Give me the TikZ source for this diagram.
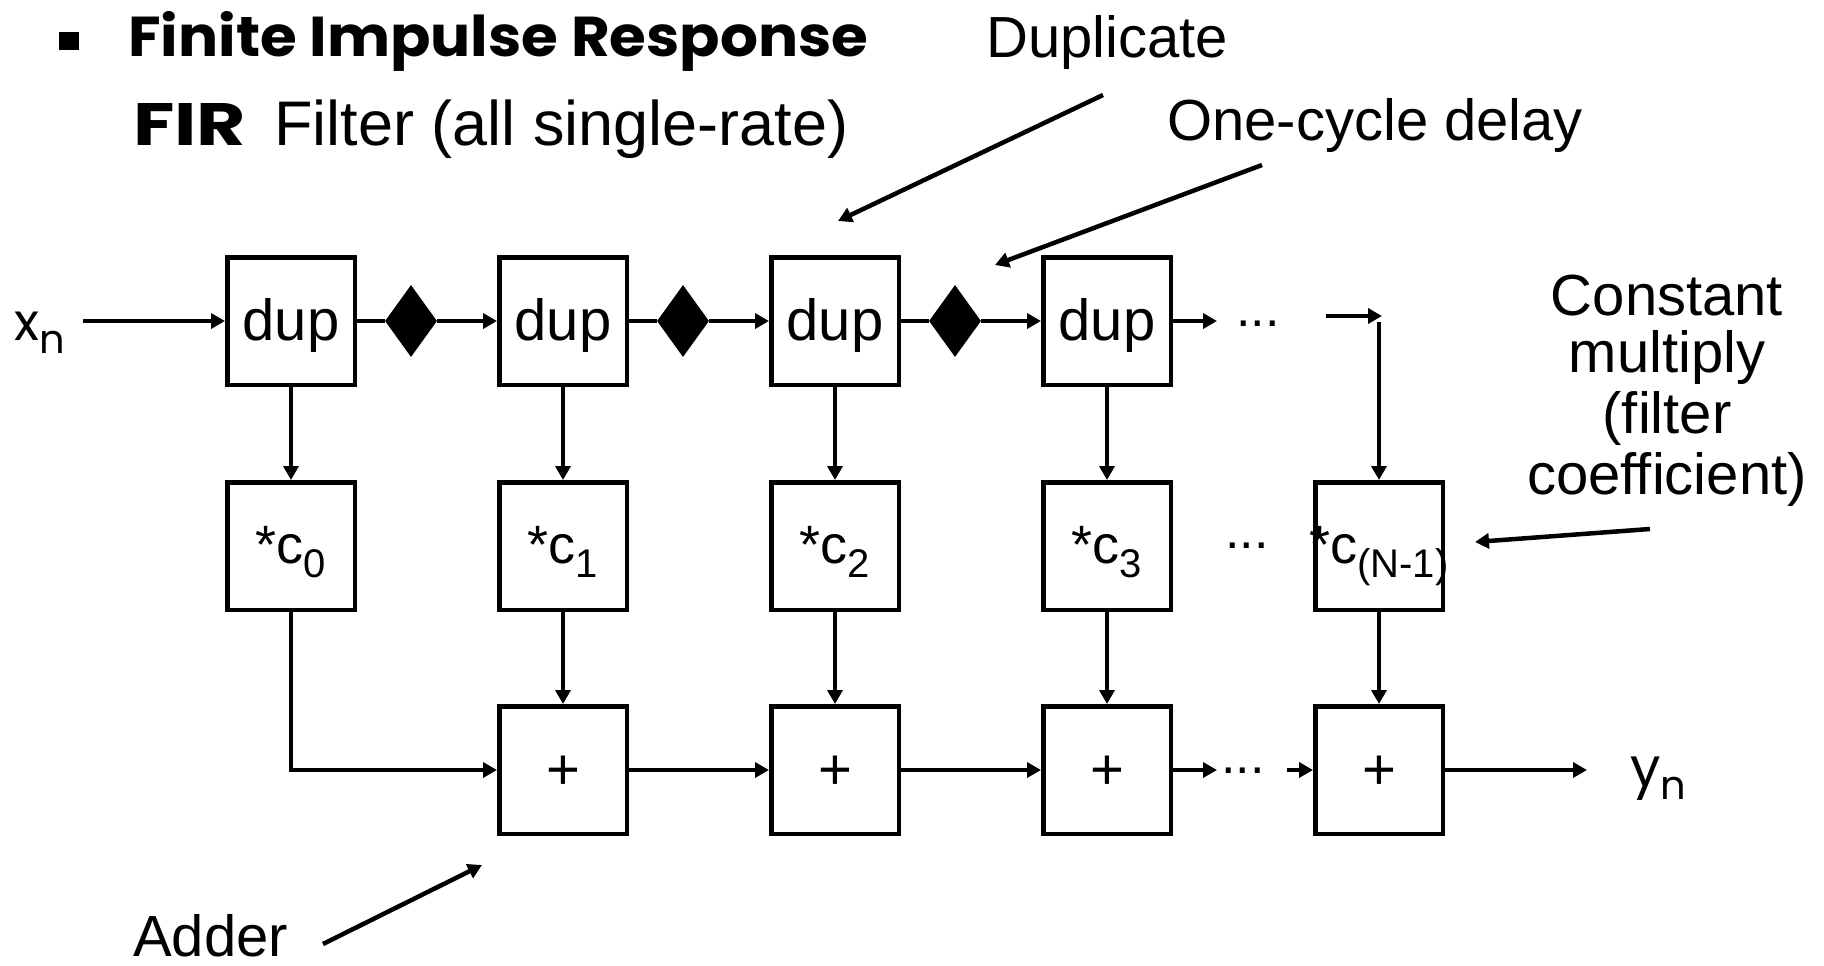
\documentclass[tikz,border=0pt]{standalone}
\usepackage{graphicx}
\usepackage{fontspec}
\setmainfont{Liberation Sans}
\newfontfamily\handfont{Poppins}
\usetikzlibrary{arrows.meta,shapes.geometric}

% coefficient label: *c with a lowered index
\newcommand\coefsub[1]{*c\raisebox{-14pt}{\fontsize{40}{40}\selectfont #1}}

\begin{document}
\begin{tikzpicture}[
  x=1pt, y=-1pt,
  blk/.style={draw, line width=4.5pt, minimum width=127.5pt, minimum height=127.5pt, inner sep=0pt},
  lbl/.style={anchor=base, inner sep=0pt, font=\fontsize{58}{58}\selectfont},
  coef/.style={anchor=base, inner sep=0pt, font=\fontsize{54}{54}\selectfont},
  dotsep/.style={anchor=base, inner sep=0pt, font=\fontsize{52}{52}\selectfont},
  plainwire/.style={line width=4.5pt},
  wire/.style={line width=4.5pt, -{Triangle[length=14pt,width=15pt]}},
  delay/.style={diamond, fill, inner sep=0pt, minimum width=52pt, minimum height=72pt},
  note/.style={anchor=base west, inner sep=0pt, font=\fontsize{58}{58}\selectfont},
  notec/.style={anchor=base, inner sep=0pt, font=\fontsize{58}{58}\selectfont},
]
\useasboundingbox (0,0) rectangle (1824,966);

% heading
\node[fill, minimum width=20pt, minimum height=18pt, inner sep=0pt] (bullet) at (69,41) {};
\node[anchor=base west, inner sep=0pt] (title) at (128,57)
  {\handfont\bfseries\resizebox{740pt}{45pt}{Finite Impulse Response}};
\node[anchor=base west, inner sep=0pt] (fir) at (133,145)
  {\handfont\bfseries\resizebox{113pt}{42pt}{FIR}};
\node[anchor=base west, inner sep=0pt, font=\fontsize{63}{63}\selectfont] (subtitle) at (274,145)
  {Filter (all single-rate)};

% duplicators
\foreach \i/\x in {1/291,2/563,3/835,4/1107}{
  \node[blk] (dup\i) at (\x,321) {};
  \node[lbl] (dupt\i) at ([yshift=-19pt]dup\i.center) {dup};
}
% multipliers
\foreach \i/\x/\c in {1/291/0,2/563/1,3/835/2,4/1107/3,5/1379/{(N-1)}}{
  \node[blk] (mul\i) at (\x,546) {};
  \node[coef] (mult\i) at ([yshift=-17pt]mul\i.center) {\coefsub{\c}};
}
% adders
\foreach \i/\x in {2/563,3/835,4/1107,5/1379}{
  \node[blk] (add\i) at (\x,770) {};
  \node[lbl] (addt\i) at ([yshift=-19pt]add\i.center) {+};
}
% one-cycle delays
\foreach \i/\x in {1/411,2/683,3/955}{
  \node[delay] (dl\i) at (\x,321) {};
}

% input and output
\node[anchor=base west, inner sep=0pt] (xin) at (14,340)
  {\handfont\fontsize{52}{52}\selectfont x\raisebox{-13pt}{\fontsize{40}{40}\selectfont n}};
\node[anchor=base west, inner sep=0pt] (yout) at (1630,786)
  {\handfont\fontsize{54}{54}\selectfont y\raisebox{-13pt}{\fontsize{40}{40}\selectfont n}};
\coordinate (xs) at (83,321);
\coordinate (ye) at (1587,770);

% top row
\draw[wire] (xs) -- (dup1.west);
\draw[plainwire] (dup1.east) -- (dl1.west);
\draw[wire] (dl1.east) -- (dup2.west);
\draw[plainwire] (dup2.east) -- (dl2.west);
\draw[wire] (dl2.east) -- (dup3.west);
\draw[plainwire] (dup3.east) -- (dl3.west);
\draw[wire] (dl3.east) -- (dup4.west);
\coordinate (t1) at (1217,321);
\draw[wire] (dup4.east) -- (t1);
\node[dotsep] (dots1) at (1258,326) {...};
\coordinate (t2) at (1326,316);
\coordinate (t3) at (1382,316);
\draw[wire] (t2) -- (t3);
\coordinate (t4) at (1379,322);
\draw[wire] (t4) -- (mul5.north);

% down to multipliers
\foreach \i in {1,2,3,4}{
  \draw[wire] (dup\i.south) -- (mul\i.north);
}
\node[dotsep] (dots2) at (1247,548) {...};

% down to adders
\draw[wire] (mul1.south) |- (add2.west);
\foreach \i in {2,3,4,5}{
  \draw[wire] (mul\i.south) -- (add\i.north);
}

% adder chain
\draw[wire] (add2.east) -- (add3.west);
\draw[wire] (add3.east) -- (add4.west);
\coordinate (b1) at (1217,770);
\draw[wire] (add4.east) -- (b1);
\node[dotsep] (dots3) at (1243,773) {...};
\coordinate (b2) at (1287,770);
\draw[wire] (b2) -- (add5.west);
\draw[wire] (add5.east) -- (ye);

% callouts
\node[note] (dupnote) at (986,58) {Duplicate};
\coordinate (a1s) at (1103,95);
\coordinate (a1e) at (838,221);
\draw[wire] (a1s) -- (a1e);

\node[note] (delaynote) at (1167,140) {One-cycle delay};
\coordinate (a2s) at (1262,165);
\coordinate (a2e) at (995,265);
\draw[wire] (a2s) -- (a2e);

\node[notec] (cm1) at (1667,315) {Constant};
\node[notec] (cm2) at (1667,372) {multiply};
\node[notec] (cm3) at (1667,433) {(filter};
\node[notec] (cm4) at (1667,494) {coefficient)};
\coordinate (a3s) at (1650,529);
\coordinate (a3e) at (1475,542);
\draw[wire] (a3s) -- (a3e);

\node[note, text depth=0pt] (addnote) at (133,956) {Adder};
\coordinate (a4s) at (323,944);
\coordinate (a4e) at (482,865);
\draw[wire] (a4s) -- (a4e);
\end{tikzpicture}
\end{document}
